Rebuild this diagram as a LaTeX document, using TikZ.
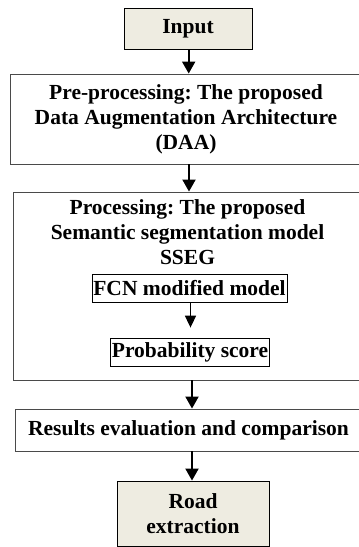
\documentclass[tikz,border=0pt]{standalone}
\usepackage{fontspec}
\setmainfont{Liberation Serif}
\usetikzlibrary{arrows.meta}
\definecolor{beige}{HTML}{EEECE1}
\definecolor{edge}{HTML}{4A4A4A}
\begin{document}
\frenchspacing
\begin{tikzpicture}[x=1pt,y=-1pt,
  every node/.style={font=\bfseries\fontsize{21.5}{25}\selectfont, align=center, inner sep=0pt},
  box/.style={draw=edge, line width=0.9pt, rectangle},
  term/.style={box, draw=black, fill=beige},
  inbox/.style={draw=black, line width=0.8pt, rectangle, inner sep=1pt},
  flow/.style={line width=2pt, -{Triangle[width=13pt,length=12pt]}},
  subflow/.style={line width=1.6pt, -{Triangle[width=11pt,length=12pt]}}]
  \useasboundingbox (0,0) rectangle (359,547);
  \clip (0,0) rectangle (359,547);

  % main stages
  \node[term, minimum width=128pt, minimum height=41pt] (in) at (188,28.5) {Input};
  \node[box, minimum width=352pt, minimum height=90pt] (pre) at (186,119)
    {Pre-processing: The proposed\\Data Augmentation Architecture\\(DAA)};
  \node[box, minimum width=349pt, minimum height=188pt] (proc) at (187.5,286) {};
  \node (proctitle) at (187.5,232)
    {Processing: The proposed\\Semantic segmentation model\\SSEG};
  \node[inbox, minimum width=195pt, minimum height=28pt] (fcn) at (189.5,288) {FCN modified model};
  \node[inbox, minimum width=158pt, minimum height=28pt] (prob) at (190,352) {Probability score};
  \node[box, minimum width=347pt, minimum height=42pt] (res) at (188.5,430)
    {Results evaluation and comparison};
  \node[term, minimum width=152pt, minimum height=65pt] (road) at (193,513.5)
    {Road\\extraction};

  % connectors
  \draw[flow] (in.south -| 188.7,0) -- (pre.north -| 188.7,0);
  \draw[flow] (pre.south -| 189,0) -- (proc.north -| 189,0);
  \draw[subflow, shorten >=10pt] (fcn.south -| 190.5,0) -- (prob.north -| 190.5,0);
  \draw[flow] (proc.south -| 192,0) -- (res.north -| 192,0);
  \draw[flow] (res.south -| 192,0) -- (road.north -| 192,0);
\end{tikzpicture}
\end{document}
